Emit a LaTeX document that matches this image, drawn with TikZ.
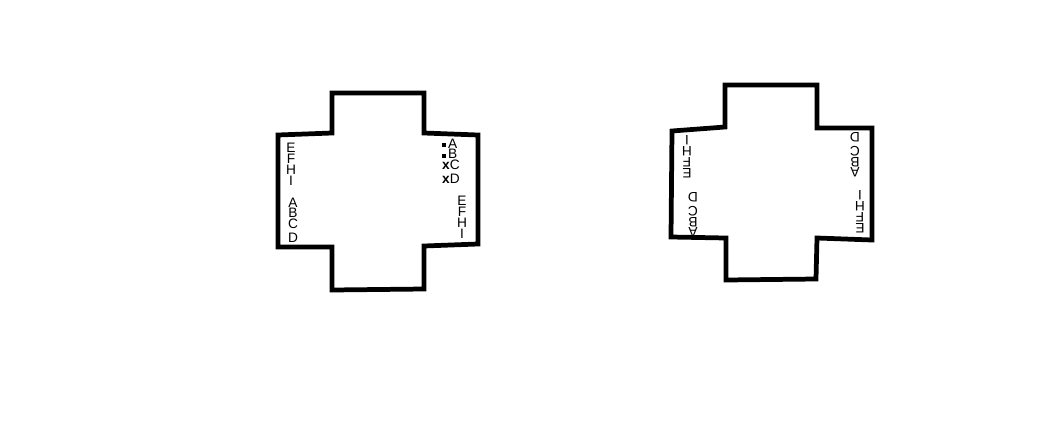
\documentclass[tikz,border=0pt]{standalone}
\usepackage{fontspec}
\setmainfont{Liberation Sans}
\tikzset{
  wall/.style={line width=2.7pt, line join=miter},
  lbl/.style={inner sep=0pt, align=center, font=\fontsize{7.8}{6.2}\selectfont},
  flip/.style={lbl, rotate=180}
}
\newcommand{\sq}{\rule[0.6pt]{2pt}{2pt}}
\begin{document}
\begin{tikzpicture}[x=0.02cm, y=-0.02cm]
      \useasboundingbox (0,0) rectangle (1059,440);
      \draw[wall]
        (332,93) -- (424,93) -- (424,133) -- (478,135) -- (478,244)
        -- (424,246) -- (424,289) -- (332,290) -- (332,247) -- (278,247)
        -- (278,135) -- (332,133) -- cycle;
      \draw[wall]
        (725,85) -- (817,85) -- (817,128) -- (872,128) -- (872,240)
        -- (817,238) -- (816,279) -- (726,280) -- (726,238) -- (671,237)
        -- (672,131) -- (725,127) -- cycle;
      \draw
        (291,164) node[lbl] (efhiL) {E\\F\\H\\I}
        (293,220) node[lbl] (abcdL) {A\\B\\C\\[1.5pt]D}
        (451,161) node[lbl, align=left] (abcdR) {\sq\,A\\\sq\,B\\\textbf{x}C\\[1.5pt]\textbf{x}D}
        (462,217) node[lbl] (efhiR) {E\\F\\H\\I};
      \begin{scope}
        \draw
          (687,157) node[flip] (efhiL2) {E\\F\\H\\I}
          (693,215) node[flip] (abcdL2) {A\\B\\C\\[1.5pt]D}
          (855,155) node[flip] (abcdR2) {A\\B\\C\\[1.5pt]D}
          (860,212) node[flip] (efhiR2) {E\\F\\H\\I};
      \end{scope}
    \end{tikzpicture}
\end{document}
